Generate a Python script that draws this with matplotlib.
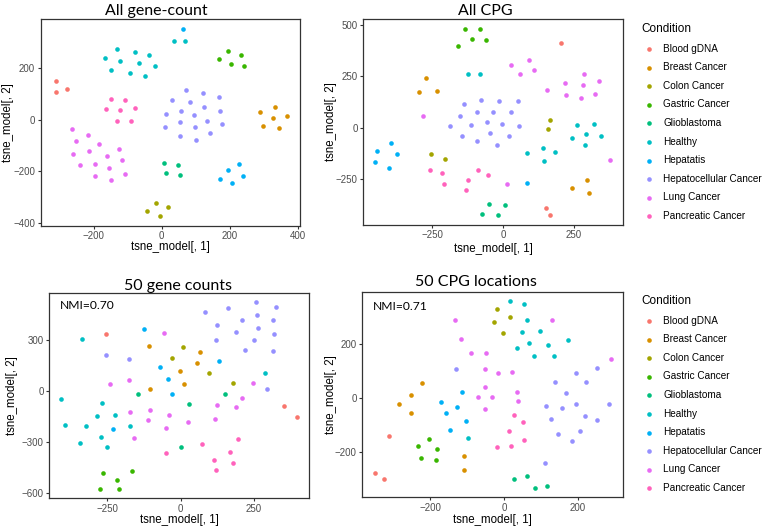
import matplotlib
matplotlib.use("Agg")
import matplotlib.pyplot as plt

plt.rcParams["font.family"] = ["Liberation Sans", "DejaVu Sans"]

W, H = 765, 531

conditions = ["Blood gDNA", "Breast Cancer", "Colon Cancer", "Gastric Cancer",
              "Glioblastoma", "Healthy", "Hepatatis", "Hepatocellular Cancer",
              "Lung Cancer", "Pancreatic Cancer"]
colors = ["#F8766D", "#D89000", "#A3A500", "#39B600", "#00BF7D",
          "#00BFC4", "#00B0F6", "#9590FF", "#E76BF3", "#FF62BC"]

# t-SNE coordinates: condition -> (x, y)
gene_all = {
    "Blood gDNA": ([-311, -309, -278], [150, 105, 117]),
    "Breast Cancer": ([288, 332, 367, 298, 325, 345], [28, 50, 15, -25, 6, -31]),
    "Colon Cancer": ([-43, -17, 18, -6], [-354, -323, -338, -370]),
    "Gastric Cancer": ([168, 194, 204, 231, 242], [233, 264, 213, 250, 206]),
    "Glioblastoma": ([6, 12, 47, 53], [-166, -206, -175, -212]),
    "Healthy": ([-166, -131, -150, -121, -78, -93, -67, -37, -50, -21, 37, 68],
                [236, 271, 191, 226, 259, 181, 217, 249, 169, 206, 304, 302]),
    "Hepatatis": ([61, 170, 195, 228, 207, 238], [350, -229, -196, -170, -243, -216]),
    "Hepatocellular Cancer": ([71, 120, 30, 167, 83, 125, 56, 171, 12, 96, 133, 54, 178, 9, 98, 141, 55, 100],
                              [113, 104, 74, 86, 68, 48, 34, 34, 21, 18, -4, -9, -18, -27, -27, -52, -62, -80]),
    "Lung Cancer": ([-263, -217, -251, -183, -260, -214, -125, -239, -162, -116, -196, -154, -109, -196, -150],
                    [-37, -58, -83, -93, -131, -122, -115, -176, -139, -157, -170, -185, -210, -219, -233]),
    "Pancreatic Cancer": ([-148, -108, -164, -121, -79, -132, -91], [79, 77, 40, 37, 46, -7, -7]),
}

cpg_all = {
    "Blood gDNA": ([207, 153, 168], [412, -391, -427]),
    "Breast Cancer": ([-271, -296, -234, 298, 244, 305], [242, 172, 179, -255, -292, -320]),
    "Colon Cancer": ([-255, -205, 168, 159], [-128, -154, 36, -6]),
    "Gastric Cancer": ([-134, -81, -110, -60, -160], [482, 482, 432, 427, 398]),
    "Glioblastoma": ([-48, 7, -73, -19], [-373, -377, -419, -424]),
    "Healthy": ([-122, -81, 262, 323, 295, 348, 244, 289, 85, 143, 184, 145],
                [260, 260, 13, 20, -31, -39, -50, -86, -123, -101, -120, -162]),
    "Hepatatis": ([-395, -446, -376, -453, -403, 85], [-73, -112, -128, -166, -195, -268]),
    "Hepatocellular Cancer": ([-138, -76, -13, 54, -152, -93, -35, 30, -186, -112, -58, -2, 58, -144, -46, 21, -91, -21],
                              [117, 136, 132, 128, 58, 78, 75, 75, 8, 13, 28, 16, 8, -42, -26, -42, -65, -84]),
    "Lung Cancer": ([-283, 14, 30, 91, 60, 111, 156, 218, 287, 283, 222, 275, 340, 327, 379],
                    [55, -276, 307, 328, 260, 281, 182, 218, 260, 206, 159, 145, 229, 164, -156]),
    "Pancreatic Cancer": ([-259, -215, -209, -125, -131, -88, -54], [-206, -221, -276, -255, -302, -206, -232]),
}

gene_50 = {
    "Blood gDNA": ([-253, 352, 398], [339, -86, -151]),
    "Breast Cancer": ([-109, -103, 65, 57, -3, 11], [267, 12, 233, 169, 122, 41]),
    "Colon Cancer": ([9, -31, 96, 177], [263, 196, 108, 51]),
    "Gastric Cancer": ([-264, -166, -218, -275, -209], [-480, -471, -520, -575, -575]),
    "Glioblastoma": ([-147, 150, 27, 3], [-16, -16, -73, -329]),
    "Healthy": ([-338, -408, -269, -286, -394, -324, -343, -273, -250, -173, -223, 289],
                [308, -43, -69, -147, -198, -204, -302, -269, -326, -204, -137, 110]),
    "Hepatatis": ([-125, -71, -43, -30, 131, -232], [369, 145, 75, -16, 178, -222]),
    "Hepatocellular Cancer": ([-253, -176, 256, 160, 325, 83, 261, 208, 314, 123, 265, 189, 319, 121, 251, 221, 316, 296],
                              [214, 192, 526, 488, 498, 465, 451, 418, 418, 390, 371, 351, 339, 300, 300, 243, 239, 14]),
    "Lung Cancer": ([-57, -176, -242, -171, -106, -111, -41, -51, -160, 248, 210, 125, 188, 117, 24],
                    [341, 69, 41, -120, -108, -171, -137, -216, -273, 51, -37, -80, -94, -165, -178]),
    "Pancreatic Cancer": ([-51, 196, 72, 169, 113, 180, 119], [-363, -282, -312, -355, -402, -420, -463]),
}

cpg_50 = {
    "Blood gDNA": ([-312, -351, -327], [-139, -279, -298]),
    "Breast Cancer": ([-223, -254, -285, -252, -109, -109], [55, 11, -23, -57, -215, -268]),
    "Colon Cancer": ([-19, 15, -28, -2], [327, 297, 279, 239]),
    "Gastric Cancer": ([-204, -234, -183, -225, -186], [-150, -177, -188, -222, -228]),
    "Glioblastoma": ([28, 62, 85, 117], [-298, -287, -331, -325]),
    "Healthy": ([17, 53, 63, 50, 97, 173, 69, 119, 35, 81, 137, -99],
                [359, 345, 286, 243, 247, 212, 201, 195, 185, 153, 155, -148]),
    "Hepatatis": ([-115, -171, -129, -157, -104, -148], [23, -15, -33, -57, -86, -118]),
    "Hepatocellular Cancer": ([-131, 139, 167, 196, 224, 252, 114, 158, 196, 285, 128, 219, 252, 146, 206, 184, 110],
                              [106, 57, 17, 91, 59, 112, -30, -38, -21, -23, -78, -65, -83, -135, -124, -159, -241]),
    "Lung Cancer": ([-133, -117, -91, -50, -53, -17, 21, -53, -71, -32, 34, 39, -53, 131, 291],
                    [286, 218, 167, 164, 108, 91, 97, 41, 3, 5, 20, -12, -42, 288, 143]),
    "Pancreatic Cancer": ([26, 51, 14, 55, 18, -18], [-63, -89, -124, -156, -177, -183]),
}

panels = [
    # data, box (left, top, right, bottom px), xlim, ylim, xticks, yticks,
    # title, title pos, nmi, ylabel x px, xlabel y px
    (gene_all, (40.7, 19, 299.5, 225.5), (-355, 404), (-408, 387), [-200, 0, 200, 400], [-400, -200, 0, 200],
     "All gene-count", (156, 15), None, 8, 247),
    (cpg_all, (363.3, 19, 623.3, 224.5), (-494, 426), (-471, 529), [-250, 0, 250], [-250, 0, 250, 500],
     "All CPG", (485.5, 15), None, 331, 249),
    (gene_50, (49.3, 292.7, 309.3, 498.3), (-448, 439), (-629, 580), [-250, 0, 250], [-600, -300, 0, 300],
     "50 gene counts", (178, 290), ("NMI=0.70", (60, 309.3)), 12.5, 520),
    (cpg_50, (362.3, 292, 623.3, 497.3), (-385, 324), (-367, 391), [-200, 0, 200], [-200, 0, 200],
     "50 CPG locations", (476, 286), ("NMI=0.71", (373.3, 310)), 331, 520),
]

fig = plt.figure(figsize=(W / 100, H / 100), dpi=100)

legend_tops = [23, 295]
for i, (data, box, xl, yl, xt, yt, title, tpos, nmi, ylx, xly) in enumerate(panels):
    l, t, r, b = box
    ax = fig.add_axes([l / W, 1 - b / H, (r - l) / W, (b - t) / H])
    handles = []
    for cond, col in zip(conditions, colors):
        xs, ys = data[cond]
        h = ax.scatter(xs, ys, s=11, color=col, linewidths=0, label=cond)
        handles.append(h)
    ax.set_xlim(*xl)
    ax.set_ylim(*yl)
    ax.set_xticks(xt)
    ax.set_yticks(yt)
    ax.tick_params(length=2.5, width=0.8, color="#333333", labelsize=7,
                   labelcolor="#4D4D4D", pad=1.5)
    for sp in ax.spines.values():
        sp.set_color("#333333")
        sp.set_linewidth(0.9)
    ax.set_xlabel("tsne_model[, 1]", fontsize=8.3, va="center")
    ax.set_ylabel("tsne_model[, 2]", fontsize=8.3, va="center")
    ax.xaxis.set_label_coords(0.5, (b - xly) / (b - t))
    ax.yaxis.set_label_coords((ylx - l) / (r - l), 0.5)
    fig.text(tpos[0] / W, 1 - tpos[1] / H, title, family="Lato", fontsize=11.5,
             ha="center", va="baseline")
    if nmi:
        txt, (nx, ny) = nmi
        fig.text(nx / W, 1 - ny / H, txt, family="Lato", fontsize=8.7,
                 ha="left", va="baseline")
    if i % 2 == 1:
        fig.legend(handles=handles, loc="upper left",
                   bbox_to_anchor=(641.4 / W, 1 - legend_tops[i // 2] / H),
                   frameon=False, fontsize=7.2, title="Condition",
                   title_fontsize=8.5, alignment="left", handlelength=1.6,
                   handletextpad=0.6, labelspacing=0.86, borderpad=0,
                   borderaxespad=0, scatterpoints=1)

fig.savefig("out.png", dpi=100)
